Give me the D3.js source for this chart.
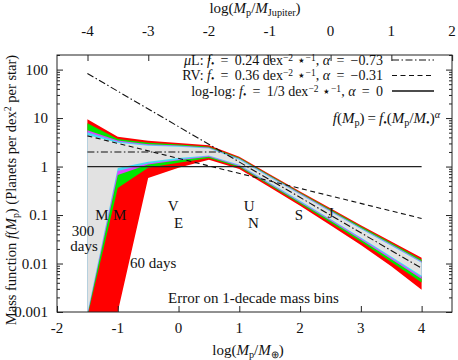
<!DOCTYPE html>
<html><head><meta charset="utf-8">
<script src="https://cdn.jsdelivr.net/npm/d3@7"></script>
<style>body{margin:0;background:#fff} svg text{font-family:"Liberation Serif","Times New Roman",serif;fill:#111}</style>
</head><body><svg id="c" width="458" height="360"></svg>
<script>
// ---------- data ----------
const massNodes = [-1.5,-1,-0.5,0,0.5,1,1.5,2,2.5,3,3.5,4];
const redUpper     = [9.5, 4.1, 3.4, 3.05, 2.75, 1.587, 0.696, 0.307, 0.138, 0.0619, 0.0285, 0.0131];
const redLower     = [0.00001, 0.001, 0.58, 0.95, 1.38, 0.893, 0.375, 0.155, 0.0619, 0.0241, 0.00874, 0.00288];
const greenUpper   = [7.8, 3.7, 3.1, 2.85, 2.57, 1.513, 0.658, 0.291, 0.130, 0.0581, 0.0264, 0.0119];
const greenLower   = [0.0008, 0.36, 0.95, 1.2, 1.5, 0.967, 0.412, 0.171, 0.0699, 0.0280, 0.0108, 0.00408];
const magentaUpper = [5.6, 3.45, 2.9, 2.72, 2.47, 1.463, 0.637, 0.280, 0.124, 0.0550, 0.0249, 0.0112];
const magentaLower = [0.00085, 0.67, 1.1, 1.35, 1.6, 1.017, 0.433, 0.182, 0.0758, 0.0310, 0.0123, 0.0048];
const cyanUpper    = [5.1, 3.3, 2.8, 2.65, 2.42, 1.426, 0.621, 0.273, 0.120, 0.0533, 0.0240, 0.0108];
const cyanLower    = [0.0009, 0.81, 1.15, 1.4, 1.65, 1.054, 0.449, 0.189, 0.0798, 0.0327, 0.0132, 0.0052];
const grayUpper    = [4.45, 3.1, 2.7, 2.55, 2.35, 1.389, 0.605, 0.266, 0.117, 0.0516, 0.0233, 0.0104];
const grayLower    = [0.00095, 0.93, 1.25, 1.5, 1.7, 1.091, 0.465, 0.196, 0.0828, 0.0344, 0.0140, 0.0056];

const muLMass = [-1.5, 4],  muLF = [83, 0.008];
const rvMass  = [-1.5, 4],  rvF  = [4.3, 0.085];
const flatMass = [-1.5, 0.72], flatF = [2, 2];
const logLogMass = [-1.5, 4], logLogF = [1, 1];

const xTicks = [-2,-1,0,1,2,3,4];
const xTickLabels = ["-2","-1","0","1","2","3","4"];
const x2Ticks = [-4,-3,-2,-1,0,1,2];
const x2TickLabels = ["-4","-3","-2","-1","0","1","2"];
const jupiterOffset = 2.502; // log(M_Jupiter/M_Earth)
const yTicks = [0.001,0.01,0.1,1,10,100];
const yTickLabels = ["0.001","0.01","0.1","1","10","100"];

const planetNames = ["M","M","V","E","U","N","S","J"];
const planetMass  = [-1.26,-0.97,-0.089,0,1.161,1.233,1.979,2.502];
const planetRow   = [215,215,206,223,206,223,215,213];

// ---------- setup ----------
const W=458,H=360, L=57,R=452,T=55,B=312;
const FS=15, LFS=14;
const svg=d3.select("#c");
const x=d3.scaleLinear().domain([-2,4.5]).range([L,R]);
const y=d3.scaleLog().domain([0.001,200]).range([B,T]);

svg.append("clipPath").attr("id","clip").append("rect")
  .attr("x",L).attr("y",T).attr("width",R-L).attr("height",B-T);
const plot=svg.append("g").attr("clip-path","url(#clip)");

const bands=[
  {u:redUpper,l:redLower,c:"#ff0000"},
  {u:greenUpper,l:greenLower,c:"#00e600"},
  {u:magentaUpper,l:magentaLower,c:"#dd44ff"},
  {u:cyanUpper,l:cyanLower,c:"#44dcf4"},
  {u:grayUpper,l:grayLower,c:"#e2e2e2"}
];
const area=d3.area().x(d=>x(d.m)).y0(d=>y(d.lo)).y1(d=>y(d.hi));
bands.forEach(b=>{
  const pts=massNodes.map((m,i)=>({m,lo:b.l[i],hi:b.u[i]}));
  plot.append("path").attr("d",area(pts)).attr("fill",b.c).attr("stroke","none");
});

const line=d3.line().x(d=>x(d[0])).y(d=>y(d[1]));
const zip=(a,b)=>a.map((v,i)=>[v,b[i]]);
const DASHDOT="7,2.5,1.5,2.5", DASH="5,3.5";
plot.append("path").attr("d",line(zip(logLogMass,logLogF))).attr("stroke","#222").attr("stroke-width",1.3).attr("fill","none");
plot.append("path").attr("d",line(zip(rvMass,rvF))).attr("stroke","#111").attr("stroke-width",1.1).attr("stroke-dasharray",DASH).attr("fill","none");
plot.append("path").attr("d",line(zip(flatMass,flatF))).attr("stroke","#111").attr("stroke-width",1.1).attr("stroke-dasharray",DASHDOT).attr("fill","none");
plot.append("path").attr("d",line(zip(muLMass,muLF))).attr("stroke","#111").attr("stroke-width",1.1).attr("stroke-dasharray",DASHDOT).attr("fill","none");

// ---------- axes ----------
const minor=[];
for(let e=-3;e<=2;e++){for(let k=2;k<=9;k++){const v=k*Math.pow(10,e); if(v<=200) minor.push(v);}}
const axL=d3.axisLeft(y).tickValues(yTicks).tickSize(-6).tickFormat("");
const axLm=d3.axisLeft(y).tickValues(minor).tickSize(-3).tickFormat("");
const axR=d3.axisRight(y).tickValues(yTicks).tickSize(-6).tickFormat("");
const axRm=d3.axisRight(y).tickValues(minor).tickSize(-3).tickFormat("");
const axB=d3.axisBottom(x).tickValues(xTicks).tickSize(-6).tickFormat("");
const axT=d3.axisTop(x).tickValues(x2Ticks.map(v=>v+jupiterOffset)).tickSize(-6).tickFormat("");
[[axL,L],[axLm,L],[axR,R],[axRm,R]].forEach(([a,tx])=>{
  const g=svg.append("g").attr("transform",`translate(${tx},0)`).call(a);
  g.select(".domain").remove(); g.selectAll("line").attr("stroke","#222");
});
[[axB,B],[axT,T]].forEach(([a,ty])=>{
  const g=svg.append("g").attr("transform",`translate(0,${ty})`).call(a);
  g.select(".domain").remove(); g.selectAll("line").attr("stroke","#222");
});
svg.append("rect").attr("x",L).attr("y",T).attr("width",R-L).attr("height",B-T)
  .attr("fill","none").attr("stroke","#222").attr("stroke-width",1);

// tick labels
yTicks.forEach((v,i)=>svg.append("text").attr("x",L-9).attr("y",y(v)+5)
  .attr("text-anchor","end").attr("font-size",FS).text(yTickLabels[i]));
xTicks.forEach((v,i)=>svg.append("text").attr("x",x(v)).attr("y",333)
  .attr("text-anchor","middle").attr("font-size",FS).text(xTickLabels[i]));
x2Ticks.forEach((v,i)=>svg.append("text").attr("x",x(v+jupiterOffset)).attr("y",36)
  .attr("text-anchor","middle").attr("font-size",FS).text(x2TickLabels[i]));

// rich text helper
function rich(sel,parts,fs,k){
  k=k||1;
  let off=0;
  parts.forEach(p=>{
    const t=p[0], s=p[1]||"";
    const ts=sel.append("tspan").text(t);
    let target=0,size=fs;
    if(s.includes("sub")){target=fs*0.22*k;size=fs*0.68;}
    if(s.includes("sup")){target=-fs*0.34*k;size=fs*0.68;}
    ts.attr("dy",target-off); off=target;
    ts.attr("font-size",size);
    if(s.startsWith("i")) ts.attr("font-style","italic");
  });
  return sel;
}
function txt(xp,yp,anchor,parts,fs,k){
  const t=svg.append("text").attr("x",xp).attr("y",yp).attr("text-anchor",anchor).attr("font-size",fs);
  return rich(t,parts,fs,k);
}

// axis titles
const EQ="\u2009=\u2009";
txt(255,13,"middle",[["log("],["M","i"],["p","sub"],["/"],["M","i"],["Jupiter","sub"],[")"]],FS);
txt(248,355,"middle",[["log("],["M","i"],["p","sub"],["/"],["M","i"],["⊕","sub"],[")"]],FS);
svg.append("g").attr("transform","translate(16,190) rotate(-90)").call(g=>{
  const t=g.append("text").attr("x",0).attr("y",0).attr("text-anchor","middle").attr("font-size",14.5);
  rich(t,[["Mass function "],["f","i"],["("],["M","i"],["p","sub"],[") (Planets per dex"],["2","sup"],[" per star)"]],14.5);
});

// legend
const legRows=[
  [[["μ","i"],["L: "],["f","i"],["•","sub"],[" "+EQ+" 0.24 dex"],["−2","sup"],[" ⋆"],["−1","sup"],[", "],["α","i"],[" "+EQ+" −0.73"]], DASHDOT, 1.1],
  [[["RV: "],["f","i"],["•","sub"],[" "+EQ+" 0.36 dex"],["−2","sup"],[" ⋆"],["−1","sup"],[", "],["α","i"],[" "+EQ+" −0.31"]], DASH, 1.1],
  [[["log-log: "],["f","i"],["•","sub"],[" "+EQ+" 1/3 dex"],["−2","sup"],[" ⋆"],["−1","sup"],[", "],["α","i"],[" "+EQ+" 0"]], null, 1.3]
];
const legY=[60,75.5,91];
legRows.forEach((r,i)=>{
  txt(383,legY[i]+4.5,"end",r[0],LFS,0.75);
  const l=svg.append("line").attr("x1",392).attr("x2",434).attr("y1",legY[i]).attr("y2",legY[i])
    .attr("stroke","#111").attr("stroke-width",r[2]);
  if(r[1]) l.attr("stroke-dasharray",r[1]);
});

// formula
txt(440,123,"end",[["f","i"],["("],["M","i"],["p","sub"],[")"+EQ],["f","i"],["•","sub"],["("],["M","i"],["p","sub"],["/"],["M","i"],["•","sub"],[")"],["α","isup"]],FS);

// annotations
planetNames.forEach((n,i)=>svg.append("text").attr("x",x(planetMass[i])).attr("y",planetRow[i]+5)
  .attr("text-anchor","middle").attr("font-size",FS).text(n));
txt(83,236,"middle",[["300"]],FS);
txt(84,251,"middle",[["days"]],FS);
txt(130,268,"start",[["60 days"]],FS);
txt(168,303,"start",[["Error on 1-decade mass bins"]],FS);
</script></body></html>
